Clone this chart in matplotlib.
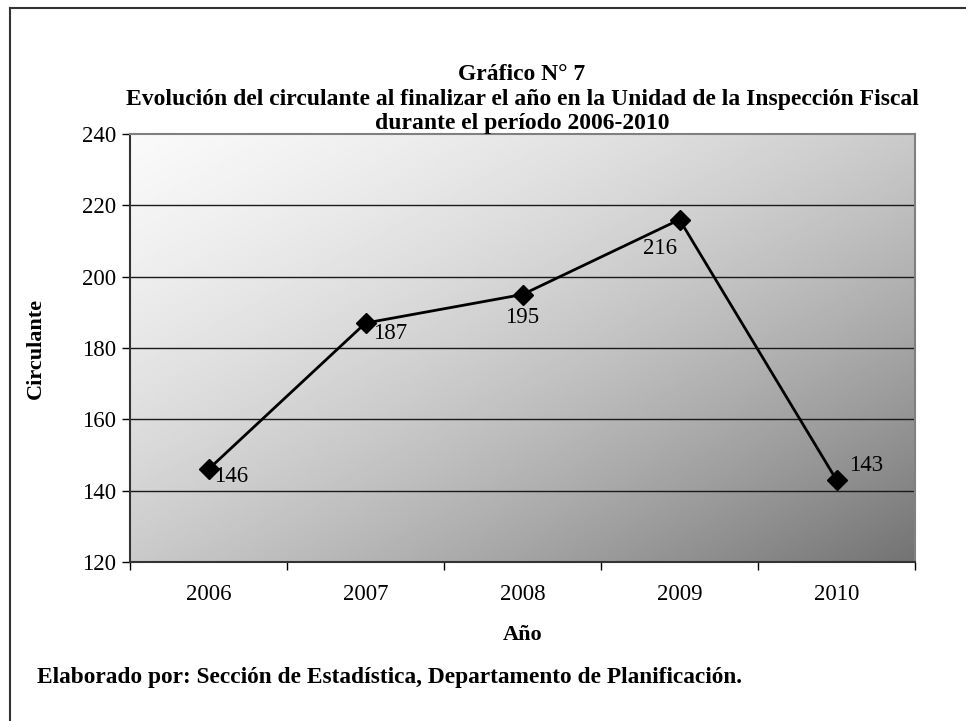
import numpy as np
import matplotlib.pyplot as plt
from matplotlib.lines import Line2D

plt.rcParams["font.family"] = ["Liberation Serif", "DejaVu Serif"]

anios = ["2006", "2007", "2008", "2009", "2010"]
circulante = [146, 187, 195, 216, 143]

# desplazamiento de cada etiqueta (px)
offsets = [(23, -7), (25, -10), (0, -23), (-19, -29), (30, 14)]

W, H = 966, 721
fig = plt.figure(figsize=(W / 100, H / 100), dpi=100)

ax = fig.add_axes([130 / W, 1 - 562 / H, 785 / W, 428 / H])

# fondo degradado diagonal (fila 0 = arriba)
u, v = np.meshgrid(np.linspace(0, 1, 400), np.linspace(0, 1, 300))
t = (u + v) / 2
gris = 0.98 - 0.23 * t - 0.30 * t ** 2
ax.imshow(gris, cmap="gray", vmin=0, vmax=1, extent=[0, 1, 0, 1], origin="upper",
          transform=ax.transAxes, aspect="auto", zorder=0, interpolation="bilinear")

x = np.arange(len(anios))
ax.plot(x, circulante, color="black", lw=2, marker="D", markersize=10, zorder=3)

for xi, yi, (dx, dy) in zip(x, circulante, offsets):
    ax.annotate(str(yi), (xi, yi), xytext=(dx * 0.72, dy * 0.72),
                textcoords="offset points", ha="center", va="center",
                fontsize=16.5, zorder=4)

ax.set_xlim(-0.5, len(anios) - 0.5)
ax.set_ylim(120, 240)
ax.set_yticks(range(120, 241, 20))
ax.set_xticks(x)
ax.set_xticklabels(anios)
ax.set_xticks(np.arange(-0.5, len(anios), 1), minor=True)
ax.tick_params(axis="x", which="major", length=0, labelsize=16.5, pad=16)
ax.tick_params(axis="x", which="minor", length=6, width=1)
ax.tick_params(axis="y", length=6, width=1, labelsize=16.5, pad=4)

for yv in range(140, 240, 20):
    ax.axhline(yv, color="#1a1a1a", lw=1, zorder=1)

ax.spines["left"].set_color("#333333")
ax.spines["bottom"].set_color("#333333")
ax.spines["top"].set_color("#808080")
ax.spines["right"].set_color("#808080")
for s in ax.spines.values():
    s.set_linewidth(1.5)

ax.set_ylabel("Circulante", fontsize=16, fontweight="bold", labelpad=26)
ax.set_xlabel("Año", fontsize=16, fontweight="bold", labelpad=14)

fig.text(522 / W, 1 - 74 / H, "Gráfico N° 7", ha="center", va="center",
         fontsize=17, fontweight="bold")
fig.text(522 / W, 1 - 100 / H,
         "Evolución del circulante al finalizar el año en la Unidad de la Inspección Fiscal",
         ha="center", va="center", fontsize=17, fontweight="bold")
fig.text(522 / W, 1 - 124 / H, "durante el período 2006-2010", ha="center",
         va="center", fontsize=17, fontweight="bold")

fig.text(37 / W, 1 - 677 / H,
         "Elaborado por: Sección de Estadística, Departamento de Planificación.",
         ha="left", va="center", fontsize=16.8, fontweight="bold")

# marco
fig.add_artist(Line2D([10 / W, 1], [1 - 8 / H, 1 - 8 / H], color="#333333", lw=1.5))
fig.add_artist(Line2D([10 / W, 10 / W], [0, 1 - 8 / H], color="#333333", lw=1.5))

fig.savefig("out.png", dpi=100)
